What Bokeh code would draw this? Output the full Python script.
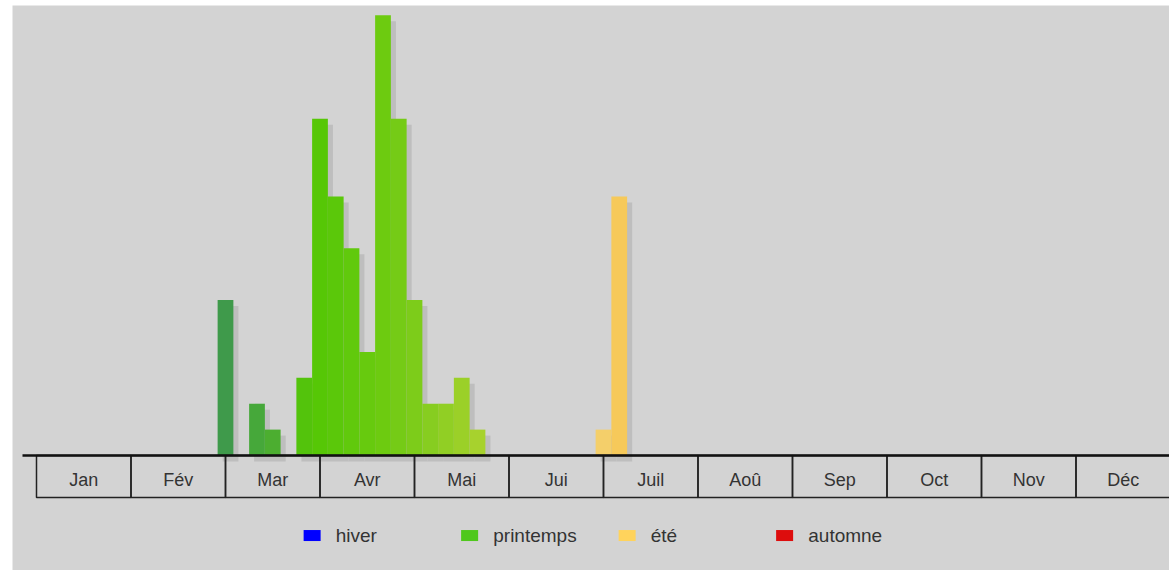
from bokeh.plotting import figure
from bokeh.models import Range1d, ColumnDataSource
from bokeh.core.properties import value
from bokeh.embed import file_html
from bokeh.resources import INLINE

# ---- data ----
periods = [12, 14, 15, 17, 18, 19, 20, 21, 22, 23, 24, 25, 26, 27, 28, 36, 37]
counts = [6, 2, 1, 3, 13, 10, 8, 4, 17, 13, 6, 2, 2, 3, 1, 1, 10]
months = ["Jan", "Fév", "Mar", "Avr", "Mai", "Jui", "Juil", "Aoû", "Sep", "Oct", "Nov", "Déc"]
seasons = ["hiver", "printemps", "été", "automne"]

# ---- styles ----
bar_colors = ["#3f9a4b", "#46a83a", "#4cae30", "#53c30c", "#56c706", "#5bc80a",
              "#61c90c", "#67ca0e", "#6dcb10", "#75cb16", "#7dcc1a", "#87cd20",
              "#91cf24", "#9bd028", "#a7d22d", "#f4cf6a", "#f6c95a"]
season_colors = ["#0000ff", "#4fc81c", "#ffd35c", "#dd0d0d"]
BG = "#d3d3d3"
TXT = "#333333"
FONT = value("Liberation Sans")

PER_MONTH = 6
p = figure(width=1169, height=570,
           x_range=Range1d(-1.5238, 71.937), y_range=Range1d(-4.440, 17.375),
           output_backend="svg", toolbar_location=None,
           x_axis_location=None, y_axis_location=None,
           min_border_left=12, min_border_right=0, min_border_top=5, min_border_bottom=0)
p.grid.visible = False
p.outline_line_color = None
p.background_fill_color = BG
p.border_fill_color = "white"

# shadows
dx, dy = 0.32, 0.23
shadow = ColumnDataSource(dict(x=[v + dx for v in periods], top=[c - dy for c in counts]))
p.vbar(x="x", top="top", bottom=-dy, width=1, source=shadow,
       fill_color="#bababa", fill_alpha=0.85, line_color=None)

# bars
src = ColumnDataSource(dict(x=periods, top=counts, color=bar_colors))
p.vbar(x="x", top="top", bottom=0, width=1, source=src,
       fill_color="color", line_color=None)

# month boxes
mleft = [i * PER_MONTH for i in range(len(months))]
mright = [(i + 1) * PER_MONTH for i in range(len(months))]
p.quad(left=mleft, right=mright, top=0, bottom=-1.62,
       fill_color=None, line_color="#222222", line_width=1.5)
p.segment(x0=-0.889, y0=0, x1=72.5, y1=0, line_color="#111111", line_width=2.5)
p.text(x=[i * PER_MONTH + PER_MONTH / 2 for i in range(len(months))], y=-0.965,
       text=months, text_align="center", text_baseline="middle",
       text_font=FONT, text_font_size="18px", text_color=TXT)

# legend
lx = [17.5 + 10 * k for k in range(len(seasons))]
p.rect(x=lx, y=-3.09, width=1.08, height=0.425,
       fill_color=season_colors, line_color=None)
p.text(x=[v + 1.5 for v in lx], y=-3.09, text=seasons,
       text_align="left", text_baseline="middle",
       text_font=FONT, text_font_size="19px", text_color=TXT)

open("out.html", "w").write(file_html(p, INLINE))
